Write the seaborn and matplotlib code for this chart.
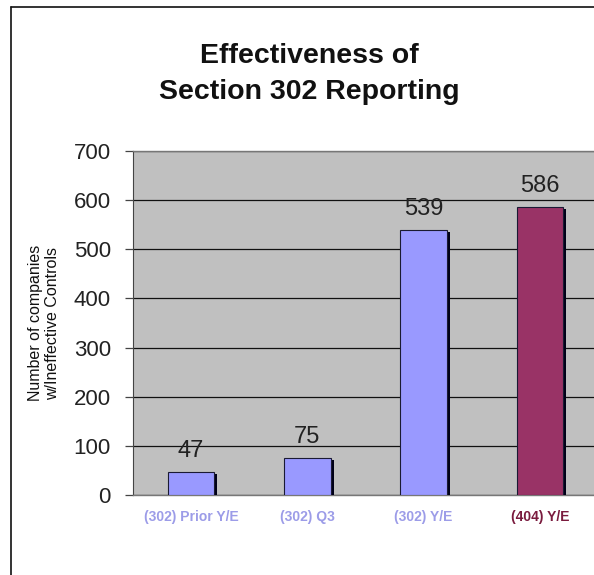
import numpy as np
import pandas as pd
import matplotlib
matplotlib.use("Agg")
import matplotlib.pyplot as plt
import matplotlib.patheffects as pe
from matplotlib.lines import Line2D
import seaborn as sns

# data
categories = ["(302) Prior Y/E", "(302) Q3", "(302) Y/E", "(404) Y/E"]
counts = [47, 75, 539, 586]
bar_colors = ["#9999FF", "#9999FF", "#9999FF", "#993366"]
label_colors = ["#9C9CE8", "#9C9CE8", "#9C9CE8", "#7A1B3E"]
y_ticks = [0, 100, 200, 300, 400, 500, 600, 700]

sns.set_style("white")
plt.rcParams["font.family"] = ["Liberation Sans", "DejaVu Sans"]

df = pd.DataFrame({"period": categories, "count": counts})

fig = plt.figure(figsize=(5.94, 5.75), dpi=100)
ax = fig.add_axes([133 / 594, 80 / 575, 465 / 594, 344 / 575])
ax.set_facecolor("#C0C0C0")

sns.barplot(
    data=df, x="period", y="count", hue="period",
    palette=bar_colors, legend=False, width=0.4, saturation=1,
    edgecolor="#1a1a33", linewidth=0.8, ax=ax,
)

# drop shadow on the bars
for bar in ax.patches:
    bar.set_path_effects([
        pe.SimplePatchShadow(offset=(2.2, -1.6), shadow_rgbFace="#000018", alpha=1.0),
        pe.Normal(),
    ])
    bar.set_zorder(3)

for cont in ax.containers:
    ax.bar_label(cont, padding=7, fontsize=17, color="#222222")

ax.set_ylim(0, 700)
ax.set_xlim(-0.5, 3.5)
ax.set_yticks(y_ticks)
ax.yaxis.grid(True, color="#111111", linewidth=0.9)
ax.set_axisbelow(True)

ax.tick_params(axis="y", direction="out", length=6, width=0.9, color="#444444",
               labelsize=16, labelcolor="#222222", pad=10, left=True)
ax.tick_params(axis="x", length=0, pad=11)
for lbl, c in zip(ax.get_xticklabels(), label_colors):
    lbl.set_color(c)
    lbl.set_fontweight("bold")
    lbl.set_fontsize(10)

ax.set_xlabel("")
ax.set_ylabel("Number of companies\nw/Ineffective Controls", fontsize=11.5,
              color="#111111", labelpad=10, linespacing=1.1)

for side in ["top", "bottom"]:
    ax.spines[side].set_color("#777777")
    ax.spines[side].set_linewidth(1.0)
ax.spines["left"].set_color("#444444")
ax.spines["right"].set_visible(False)

fig.text(309 / 594, 1 - 74 / 575, "Effectiveness of\nSection 302 Reporting",
         ha="center", va="center", fontsize=20.5, fontweight="bold",
         color="#111111", linespacing=1.5)

# outer frame, top and left only
fig.add_artist(Line2D([11 / 594, 1.0], [1 - 7 / 575, 1 - 7 / 575],
                      transform=fig.transFigure, color="#111111", linewidth=1.2))
fig.add_artist(Line2D([11 / 594, 11 / 594], [0.0, 1 - 7 / 575],
                      transform=fig.transFigure, color="#111111", linewidth=1.2))

fig.savefig("out.png", dpi=100)
